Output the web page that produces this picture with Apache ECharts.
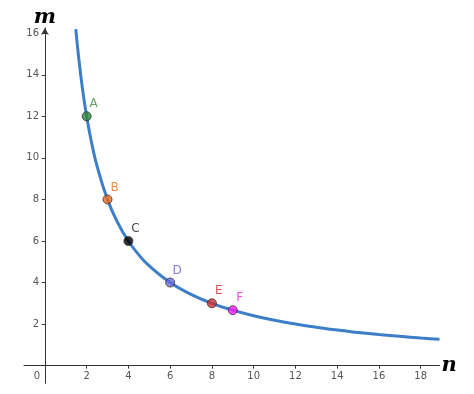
<!DOCTYPE html>
<html>
<head>
<meta charset="utf-8">
<script src="https://cdn.jsdelivr.net/npm/echarts@6/dist/echarts.min.js"></script>
<style>html,body{margin:0;padding:0;background:#fff}#c{width:474px;height:394px}</style>
</head>
<body>
<div id="c"></div>
<script>
// Curve m vs n
const curveN = [1.48, 1.6, 1.8, 2, 2.25, 2.5, 3, 3.5, 4, 4.5, 5, 6, 7, 8, 9, 10, 11, 12, 13, 14, 15, 16, 17, 18, 18.9];
const curveM = [16.2, 15, 13.33, 12, 10.67, 9.6, 8, 6.86, 6, 5.33, 4.8, 4, 3.43, 3, 2.67, 2.4, 2.18, 2, 1.85, 1.71, 1.6, 1.5, 1.41, 1.33, 1.27];
// Named points
const pointNames = ['A', 'B', 'C', 'D', 'E', 'F'];
const pointN = [2, 3, 4, 6, 8, 9];
const pointM = [12, 8, 6, 4, 3, 2.67];
const pointFill = ['#2f8a3c', '#e8691e', '#000000', '#6b6bd8', '#d1312f', '#ff1aff'];
const labelColor = ['#3a8a3a', '#e8731e', '#111111', '#6a5acd', '#d0262b', '#e81ee8'];
// Tick labels
const xTicks = [2, 4, 6, 8, 10, 12, 14, 16, 18];
const yTicks = [2, 4, 6, 8, 10, 12, 14, 16];

const chart = echarts.init(document.getElementById('c'));
const nameFont = {fontFamily: 'DejaVu Serif', fontWeight: 'bold', fontStyle: 'italic', fontSize: 21, color: '#000'};
chart.setOption({
  animation: false,
  grid: {left: 24, right: 34.5, top: 28, bottom: 10.7, containLabel: false, outerBoundsMode: 'none'},
  xAxis: {
    type: 'value', min: -1, max: 18.9,
    name: 'n', nameLocation: 'end', nameGap: 2, nameTextStyle: Object.assign({}, nameFont, {verticalAlign: 'middle', padding: [0, 0, 8, 0]}),
    axisLine: {onZero: true, lineStyle: {color: '#333', width: 1}},
    axisTick: {show: true, length: 3, inside: false, customValues: xTicks, lineStyle: {color: '#333'}},
    axisLabel: {customValues: [0].concat(xTicks), color: '#555', fontSize: 10, fontFamily: 'DejaVu Sans', margin: -12,
      formatter: v => v === 0 ? '{z|0}' : String(v),
      rich: {z: {padding: [0, 16, 0, 0], color: '#555', fontSize: 10}}},
    splitLine: {show: false}
  },
  yAxis: {
    type: 'value', min: -0.85, max: 16.25,
    name: 'm', nameLocation: 'end', nameGap: 0, nameTextStyle: Object.assign({}, nameFont, {align: 'center'}),
    axisLine: {onZero: true, symbol: ['none', 'arrow'], symbolSize: [6, 7], lineStyle: {color: '#333', width: 1}},
    axisTick: {show: true, length: 3, inside: false, customValues: yTicks, lineStyle: {color: '#333'}},
    axisLabel: {customValues: yTicks, color: '#555', fontSize: 10, fontFamily: 'DejaVu Sans', margin: -15},
    splitLine: {show: false}
  },
  series: [
    {
      type: 'line', smooth: true, showSymbol: false, silent: true,
      data: curveN.map((n, i) => [n, curveM[i]]),
      lineStyle: {color: '#3c7ec8', width: 3},
      z: 2
    },
    {
      type: 'scatter', symbolSize: 9,
      data: pointN.map((n, i) => ({
        value: [n, pointM[i]],
        itemStyle: {color: pointFill[i], borderColor: '#333', borderWidth: 1},
        label: {show: true, formatter: pointNames[i], position: 'top', distance: 1, offset: [7, 0],
          color: labelColor[i], fontSize: 12, fontFamily: 'DejaVu Sans'}
      })),
      z: 3
    }
  ]
});
</script>
</body>
</html>
